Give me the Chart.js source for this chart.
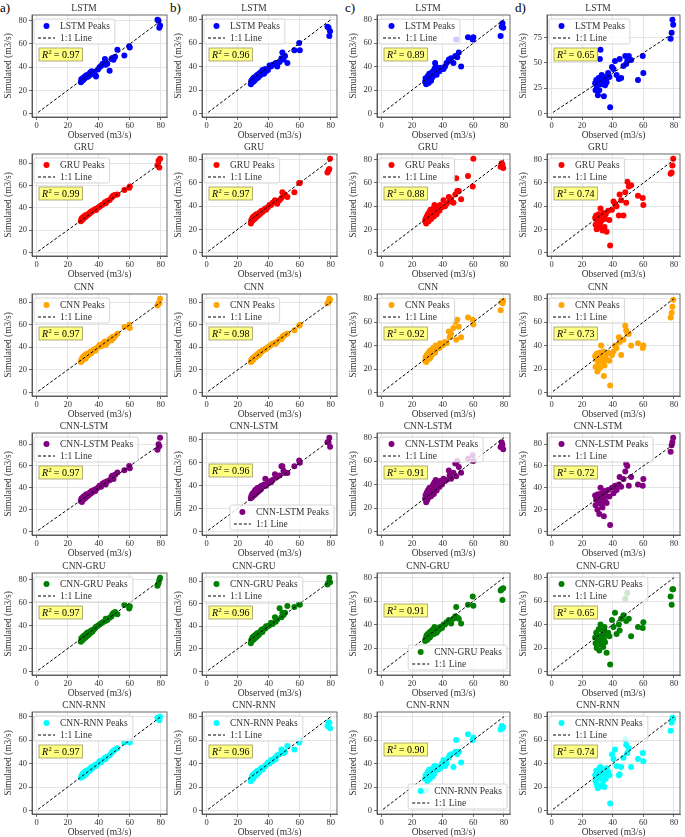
<!DOCTYPE html>
<html>
<head>
<meta charset="utf-8">
<script src="https://cdn.jsdelivr.net/npm/chart.js@4.4.0/dist/chart.umd.min.js"></script>
<style>
  body { margin: 0; background: #fff; }
  #wrap { position: relative; width: 685px; height: 837px; background: #fff; overflow: hidden; }
  .panel { position: absolute; }
  .letter { position: absolute; font-family: 'Liberation Serif', 'DejaVu Serif', serif; font-size: 13px; color: #000; }
</style>
</head>
<body>
<div id="wrap"></div>
<script>
// observed peaks (shared by every panel)
const obs = [28.5, 28.8, 29.2, 29.5, 30, 30.3, 30.8, 31.2, 31.6, 32, 32.4, 32.8, 33.3, 33.8, 34.2, 34.6, 35, 35.4, 36, 37, 37.8, 38.3, 39.5, 40.5, 41.5, 42.5, 44, 44.5, 45.5, 47, 48.2, 48.8, 49.5, 50.5, 52, 56.5, 59.6, 60, 77.8, 78.5, 79, 79.5];

// simulated peaks, one array per model and column a-d
const lstmA = [27, 29.5, 28, 30, 29, 31, 30, 32, 31, 33, 31.5, 33, 32, 34, 33, 35.5, 34, 36.5, 35, 36, 33, 32, 38, 40, 41, 43, 47, 42, 43, 37, 47, 48, 46.5, 49, 55, 50, 58, 57, 81, 80, 74, 76];
const lstmB = [25, 28, 26.5, 29, 27, 30.5, 28, 31, 29.5, 32, 30, 33, 31, 34, 32.5, 35, 33, 35, 37, 34, 38, 36, 37, 41, 40, 41.5, 42, 43, 40, 44, 47, 52, 46, 49, 43, 54, 60, 54, 74, 73, 66, 70];
const lstmC = [27, 30, 25, 29, 28, 32, 26, 34, 30, 33, 28, 35, 31, 36, 33, 38, 43, 40, 33, 38, 36, 39, 38, 38, 40, 43, 46, 45, 47, 43, 49, 63, 48, 52, 40, 65, 63, 65, 66, 74, 77, 73];
const lstmD = [30, 23, 33, 27, 32, 18, 35, 23, 54, 63, 29, 38, 31, 35, 17, 36, 28, 33, 31, 40, 36, 6, 46, 44, 52, 38, 34, 54, 35, 47, 57, 49, 52, 57, 53, 33, 57, 40, 74, 80, 93, 88];

const gruA = [28, 30, 29, 31, 30, 32, 31, 33, 32, 33.5, 33, 34, 34, 35, 35, 36, 36, 37, 37, 38, 39, 38, 40, 41, 42, 43, 45, 44, 46, 47, 49, 50, 51, 51.5, 52, 56, 58, 59, 78, 82, 76, 84];
const gruB = [25, 28, 27, 30, 28, 31, 29, 32, 30, 33, 31, 33, 32, 34, 33, 35, 34, 36, 35, 37, 38, 37, 39, 41, 41, 43, 45, 44, 42, 45, 47, 52, 49, 50, 48, 52, 60, 60, 69, 71, 72, 81];
const gruC = [27, 29, 25, 31, 28, 33, 27, 35, 30, 37, 29, 34, 32, 38, 31, 41, 34, 40, 33, 38, 36, 41, 39, 45, 40, 42, 48, 44, 46, 43, 50, 64, 53, 53, 46, 66, 57, 81, 74, 77, 76, 73];
const gruD = [30, 24, 32, 20, 27, 29, 33, 22, 25, 38, 27, 31, 19, 34, 30, 22, 29, 33, 18, 36, 28, 6, 37, 44, 42, 40, 32, 50, 45, 32, 52, 43, 61, 57, 58, 49, 47, 41, 68, 69, 75, 81];

const cnnA = [27, 29, 28, 31, 29, 32, 30, 33, 30, 34, 32, 33, 33, 35, 34, 36, 35, 35, 37, 38, 37, 39, 40, 42, 41, 43, 45, 42, 44, 47, 46, 49, 48, 50, 52, 58, 60, 57, 77, 79, 79, 83];
const cnnB = [27, 29, 28, 30, 29, 31, 31, 32, 31, 33, 33, 34, 33, 35, 34, 36, 36, 36, 37, 38, 38, 39, 40, 41, 42, 43, 44, 43, 45, 47, 47, 49, 50, 51, 52, 55, 59, 60, 79, 80, 83, 82];
const cnnC = [27, 30, 26, 32, 28, 33, 30, 35, 29, 36, 31, 34, 33, 38, 35, 36, 34, 40, 37, 39, 38, 42, 40, 41, 43, 42, 52, 47, 50, 55, 60, 45, 62, 56, 47, 64, 62, 58, 70, 77, 76, 78];
const cnnD = [31, 22, 28, 33, 18, 30, 25, 34, 21, 28, 40, 31, 26, 35, 14, 23, 30, 32, 28, 34, 27, 6, 32, 35, 40, 38, 47, 43, 32, 45, 57, 53, 50, 50, 40, 42, 38, 40, 64, 68, 73, 79];

const cnnLstmA = [28, 30, 27, 31, 29, 32, 30, 33, 31, 34, 32, 33, 33, 35, 34, 36, 35, 37, 36, 38, 37, 39, 40, 42, 41, 44, 45, 43, 46, 47, 50, 51, 48, 52, 54, 56, 60, 58, 75, 80, 78, 86];
const cnnLstmB = [29, 31, 30, 33, 31, 34, 32, 36, 33, 37, 34, 38, 35, 37, 36, 39, 37, 40, 39, 41, 46, 40, 42, 44, 43, 45, 50, 47, 48, 49, 57, 57, 53, 51, 51, 57, 62, 60, 78, 78, 82, 74];
const cnnLstmC = [28, 31, 25, 33, 27, 35, 29, 37, 31, 36, 30, 38, 33, 40, 32, 42, 36, 44, 35, 40, 38, 43, 40, 45, 43, 44, 52, 48, 45, 50, 58, 47, 60, 55, 50, 62, 65, 60, 72, 76, 74, 70];
const cnnLstmD = [33, 24, 29, 31, 20, 34, 27, 16, 30, 40, 25, 35, 22, 30, 14, 37, 28, 33, 26, 38, 32, 6, 40, 35, 42, 38, 43, 50, 41, 48, 55, 62, 60, 42, 50, 43, 42, 48, 73, 79, 82, 86];

const cnnGruA = [26, 29, 27, 30, 28, 31, 29, 32, 30, 33, 31, 34, 32, 34, 33, 35, 34, 36, 35, 37, 38, 39, 40, 41, 42, 43, 44, 46, 45, 47, 48, 50, 51, 52, 50, 58, 55, 57, 75, 77, 80, 82];
const cnnGruB = [25, 28, 27, 30, 28, 31, 29, 32, 30, 33, 31, 34, 32, 33, 34, 35, 36, 37, 35, 38, 38, 40, 40, 41, 43, 42, 48, 44, 46, 56, 48, 52, 50, 52, 58, 57, 60, 59, 77, 79, 83, 79];
const cnnGruC = [26, 28, 29, 31, 27, 32, 30, 33, 29, 34, 31, 35, 33, 36, 32, 38, 34, 37, 33, 35, 36, 38, 37, 40, 40, 42, 44, 43, 41, 45, 47, 55, 46, 45, 41, 57, 64, 56, 69, 70, 61, 71];
const cnnGruD = [29, 24, 33, 20, 27, 31, 36, 18, 26, 40, 23, 30, 35, 21, 28, 38, 25, 32, 16, 33, 30, 6, 44, 38, 50, 32, 40, 35, 45, 48, 62, 43, 67, 45, 30, 38, 37, 42, 64, 57, 70, 70];

const cnnRnnA = [28, 29, 30, 31, 29, 32, 30, 33, 31, 34, 32, 34, 33, 35, 34, 36, 35, 37, 36, 38, 39, 38, 40, 42, 41, 43, 45, 44, 46, 47, 49, 50, 51, 52, 53, 58, 59, 58, 79, 78, 77, 80];
const cnnRnnB = [25, 27, 28, 30, 27, 31, 29, 32, 30, 33, 31, 34, 32, 33, 34, 35, 36, 36, 35, 37, 38, 39, 41, 40, 43, 42, 45, 44, 47, 48, 52, 50, 49, 50, 55, 52, 58, 60, 72, 75, 75, 70];
const cnnRnnC = [27, 30, 17, 31, 25, 33, 28, 35, 27, 34, 30, 32, 29, 36, 31, 38, 34, 38, 35, 35, 37, 36, 40, 43, 38, 40, 45, 47, 48, 37, 50, 60, 48, 50, 41, 65, 60, 62, 69, 72, 70, 71];
const cnnRnnD = [30, 25, 34, 22, 28, 19, 33, 36, 27, 37, 21, 30, 35, 25, 33, 20, 31, 27, 36, 33, 30, 6, 48, 44, 52, 38, 30, 31, 37, 45, 61, 56, 49, 53, 37, 44, 49, 42, 68, 75, 79, 78];

const models = ['LSTM', 'GRU', 'CNN', 'CNN-LSTM', 'CNN-GRU', 'CNN-RNN'];
const colors = ['#0000ff', '#ff0000', '#ffa500', '#800080', '#008000', '#00ffff'];
const letters = ['a)', 'b)', 'c)', 'd)'];
const r2Text = [
  ['0.97', '0.96', '0.89', '0.65'],
  ['0.99', '0.97', '0.88', '0.74'],
  ['0.97', '0.98', '0.92', '0.73'],
  ['0.97', '0.96', '0.91', '0.72'],
  ['0.97', '0.96', '0.91', '0.65'],
  ['0.97', '0.96', '0.90', '0.74']
];
const oneToOne = [1, 80];

const sims = [
  [lstmA, lstmB, lstmC, lstmD],
  [gruA, gruB, gruC, gruD],
  [cnnA, cnnB, cnnC, cnnD],
  [cnnLstmA, cnnLstmB, cnnLstmC, cnnLstmD],
  [cnnGruA, cnnGruB, cnnGruC, cnnGruD],
  [cnnRnnA, cnnRnnB, cnnRnnC, cnnRnnD]
];

// panels where the legend sits lower right
const lowerRight = { '3,1': true, '4,2': true, '5,2': true };

// layout of the plot boxes
const plotLeft = [32, 202, 377, 547];
const plotRight = [168, 338, 511, 681];
const fam = "'Liberation Serif', 'DejaVu Serif', serif";
const textCol = '#333';

Chart.defaults.font.family = fam;

// frame, inset legend and R^2 box
const insetPlugin = {
  id: 'inset',
  afterDatasetsDraw(chart, args, o) {
    const a = chart.chartArea;
    const ctx = chart.ctx;
    ctx.save();
    ctx.strokeStyle = '#444';
    ctx.lineWidth = 0.8;
    ctx.strokeRect(a.left, a.top, a.right - a.left, a.bottom - a.top);

    // legend
    ctx.font = '9.5px ' + fam;
    const tw = Math.max(ctx.measureText(o.label).width, ctx.measureText('1:1 Line').width);
    const w = 26 + tw + 5, h = 25;
    let x, y;
    if (o.corner === 'lr') { x = a.right - 3 - w; y = a.bottom - 5 - h; }
    else { x = a.left + 2; y = a.top + 4; }
    ctx.beginPath();
    ctx.roundRect(x, y, w, h, 2);
    ctx.fillStyle = 'rgba(255,255,255,0.8)';
    ctx.fill();
    ctx.strokeStyle = '#cccccc';
    ctx.stroke();
    ctx.beginPath();
    ctx.arc(x + 12.5, y + 7, 3, 0, Math.PI * 2);
    ctx.fillStyle = o.color;
    ctx.fill();
    ctx.beginPath();
    ctx.setLineDash([3, 2]);
    ctx.strokeStyle = '#000';
    ctx.lineWidth = 1;
    ctx.moveTo(x + 4, y + 19);
    ctx.lineTo(x + 21, y + 19);
    ctx.stroke();
    ctx.setLineDash([]);
    ctx.fillStyle = textCol;
    ctx.textBaseline = 'middle';
    ctx.fillText(o.label, x + 26, y + 7.5);
    ctx.fillText('1:1 Line', x + 26, y + 19.5);

    // R^2 box
    const rx = a.left + 7, ry = a.top + (o.corner === 'lr' ? 31 : 33);
    ctx.font = 'italic 10px ' + fam;
    const wR = ctx.measureText('R').width;
    ctx.font = '6.5px ' + fam;
    const w2 = ctx.measureText('2').width;
    ctx.font = '10px ' + fam;
    const rest = ' = ' + o.r2;
    const wRest = ctx.measureText(rest).width;
    const bw = 3 + wR + w2 + wRest + 3, bh = 13;
    ctx.fillStyle = '#ffff80';
    ctx.fillRect(rx, ry, bw, bh);
    ctx.strokeStyle = '#9a9a6a';
    ctx.lineWidth = 0.8;
    ctx.strokeRect(rx, ry, bw, bh);
    ctx.fillStyle = '#000';
    ctx.font = 'italic 10px ' + fam;
    ctx.fillText('R', rx + 3, ry + 7);
    ctx.font = '6.5px ' + fam;
    ctx.fillText('2', rx + 3 + wR + 0.5, ry + 4);
    ctx.font = '10px ' + fam;
    ctx.fillText(rest, rx + 3 + wR + w2, ry + 7);
    ctx.restore();
  }
};

const wrap = document.getElementById('wrap');

letters.forEach((t, c) => {
  const d = document.createElement('div');
  d.className = 'letter';
  d.textContent = t;
  d.style.left = (plotLeft[c] - 32) + 'px';
  d.style.top = '0px';
  wrap.appendChild(d);
});

for (let r = 0; r < models.length; r++) {
  for (let c = 0; c < 4; c++) {
    const sim = sims[r][c];
    const pts = obs.map((x, i) => ({ x: x, y: sim[i] }));
    const xs = obs.concat(oneToOne), ys = sim.concat(oneToOne);
    const xlo = Math.min(...xs), xhi = Math.max(...xs);
    const ylo = Math.min(...ys), yhi = Math.max(...ys);
    const xp = 0.05 * (xhi - xlo), yp = 0.05 * (yhi - ylo);
    const yStep = yhi > 90 ? 25 : 20;

    const pl = plotLeft[c], pw = plotRight[c] - pl;
    const pt = Math.round(15 + 139.4 * r);
    const div = document.createElement('div');
    div.className = 'panel';
    div.style.left = (pl - 32) + 'px';
    div.style.top = (pt - 15) + 'px';
    const canvas = document.createElement('canvas');
    canvas.width = pw + 35;
    canvas.height = 141;
    div.appendChild(canvas);
    wrap.appendChild(div);

    new Chart(canvas, {
      data: {
        datasets: [{
          type: 'line',
          data: oneToOne.map(v => ({ x: v, y: v })),
          borderColor: '#000',
          borderWidth: 1,
          borderDash: [3, 2],
          pointRadius: 0,
          order: 0
        }, {
          type: 'scatter',
          data: pts,
          backgroundColor: colors[r],
          borderWidth: 0,
          pointRadius: 3,
          order: 1
        }]
      },
      options: {
        responsive: false,
        animation: false,
        layout: { padding: { left: 0, right: 3, top: 0, bottom: 0 } },
        plugins: {
          legend: { display: false },
          tooltip: { enabled: false },
          title: {
            display: true,
            text: models[r],
            color: textCol,
            font: { family: fam, size: 9.5, weight: 'normal' },
            padding: { top: 3, bottom: 0.6 }
          },
          inset: {
            label: models[r] + ' Peaks',
            color: colors[r],
            r2: r2Text[r][c],
            corner: lowerRight[r + ',' + c] ? 'lr' : 'ul'
          }
        },
        scales: {
          x: {
            type: 'linear',
            min: xlo - xp,
            max: xhi + xp,
            afterFit: s => { s.height = 24; },
            ticks: { stepSize: 20, includeBounds: false, color: textCol, font: { family: fam, size: 8.5 }, padding: 1, maxRotation: 0 },
            grid: { color: '#dedede', lineWidth: 0.8, tickLength: 3, tickColor: '#444' },
            border: { color: '#444', width: 0.8 },
            title: { display: true, text: 'Observed (m3/s)', color: textCol, font: { family: fam, size: 9.5 }, padding: { top: 0, bottom: 0 } }
          },
          y: {
            type: 'linear',
            min: ylo - yp,
            max: yhi + yp,
            afterFit: s => { s.width = 32; },
            ticks: { stepSize: yStep, includeBounds: false, color: textCol, font: { family: fam, size: 8.5 }, padding: 2 },
            grid: { color: '#dedede', lineWidth: 0.8, tickLength: 3, tickColor: '#444' },
            border: { color: '#444', width: 0.8 },
            title: { display: true, text: 'Simulated (m3/s)', color: textCol, font: { family: fam, size: 9.5 }, padding: { top: 3, bottom: 0 } }
          }
        }
      },
      plugins: [insetPlugin]
    });
  }
}
</script>
</body>
</html>
